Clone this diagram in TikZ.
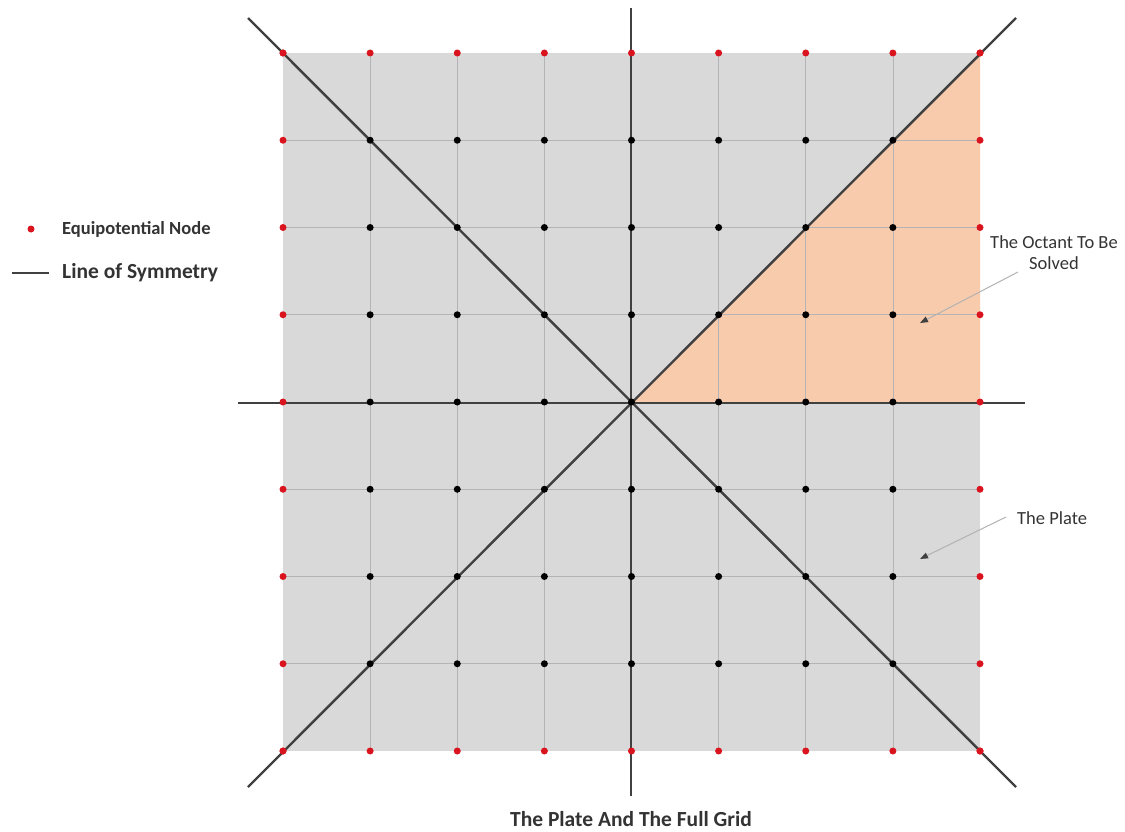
\documentclass[tikz,border=0pt]{standalone}
\usepackage{fontspec}
\setmainfont{Carlito}
\usetikzlibrary{arrows.meta}
\definecolor{platefill}{HTML}{D9D9D9}
\definecolor{octfill}{HTML}{F8CBAD}
\definecolor{gridcol}{HTML}{B4B4B4}
\definecolor{symcol}{HTML}{404040}
\definecolor{nodered}{HTML}{D9141E}
\definecolor{labcol}{HTML}{333333}
\tikzset{
  gridline/.style={draw=gridcol, line width=0.7pt},
  symline/.style={draw=symcol, line width=2.4pt},
  blackdot/.style={circle, fill=black, inner sep=0pt, minimum size=7pt},
  reddot/.style={circle, fill=nodered, inner sep=0pt, minimum size=7pt},
  pointer/.style={draw=gray!60, line width=1pt, -{Triangle[length=8pt,width=6pt,color=black!75]}},
  legtext/.style={text=labcol, anchor=west, inner sep=0pt},
  labtext/.style={font=\fontsize{18.5}{21}\selectfont, text=labcol, align=center, inner sep=0pt}
}
\begin{document}
\begin{tikzpicture}[x=1pt,y=-1pt]
\useasboundingbox (0,0) rectangle (1125,832);
\foreach \i in {0,...,8}{
  \foreach \j in {0,...,8}{
    \coordinate (g\i\j) at ({283+87.125*\i},{53+87.25*\j});
  }
}
% plate and octant
\fill[platefill] (g00) rectangle (g88);
\fill[octfill] (g44) -- (g80) -- (g84) -- cycle;
% grid lines
\foreach \i in {1,...,7}{
  \draw[gridline] (g\i0) -- (g\i8);
  \draw[gridline] (g0\i) -- (g8\i);
}
% symmetry lines
\coordinate (vt) at (631,8);
\coordinate (vb) at (631,796);
\coordinate (hl) at (238,403);
\coordinate (hr) at (1025,403);
\coordinate (dtl) at (248,18);
\coordinate (dbr) at (1016,787);
\coordinate (dbl) at (248,787);
\coordinate (dtr) at (1016,18);
\draw[symline] (vt) -- (vb);
\draw[symline] (hl) -- (hr);
\draw[symline] (dtl) -- (dbr);
\draw[symline] (dbl) -- (dtr);
% interior nodes
\foreach \i in {1,...,7}{
  \foreach \j in {1,...,7}{
    \node[blackdot] (n\i\j) at (g\i\j) {};
  }
}
% boundary (equipotential) nodes
\foreach \i in {0,...,8}{
  \node[reddot] (rt\i) at (g\i0) {};
  \node[reddot] (rb\i) at (g\i8) {};
  \node[reddot] (rl\i) at (g0\i) {};
  \node[reddot] (rr\i) at (g8\i) {};
}
% legend
\node[reddot] (legdot) at (31,229) {};
\node[legtext, font=\bfseries\fontsize{18.5}{21}\selectfont] (legnode) at (62,229) {Equipotential Node};
\coordinate (legla) at (12,273);
\coordinate (leglb) at (49,273);
\draw[symline] (legla) -- (leglb);
\node[legtext, font=\bfseries\fontsize{21.5}{25}\selectfont] (legsym) at (62,273) {Line of Symmetry};
% labels with pointers
\node[labtext] (octlab) at (1054,253) {The Octant To Be\\Solved};
\coordinate (octtip) at (920,323);
\draw[pointer] (1018,272) -- (octtip);
\node[labtext, anchor=west] (platelab) at (1017,518) {The Plate};
\coordinate (platetip) at (920,559);
\draw[pointer] (1006,517) -- (platetip);
% title
\node[font=\bfseries\fontsize{21.5}{25}\selectfont, text=labcol, inner sep=0pt] (title) at (631,819) {The Plate And The Full Grid};
\end{tikzpicture}
\end{document}
